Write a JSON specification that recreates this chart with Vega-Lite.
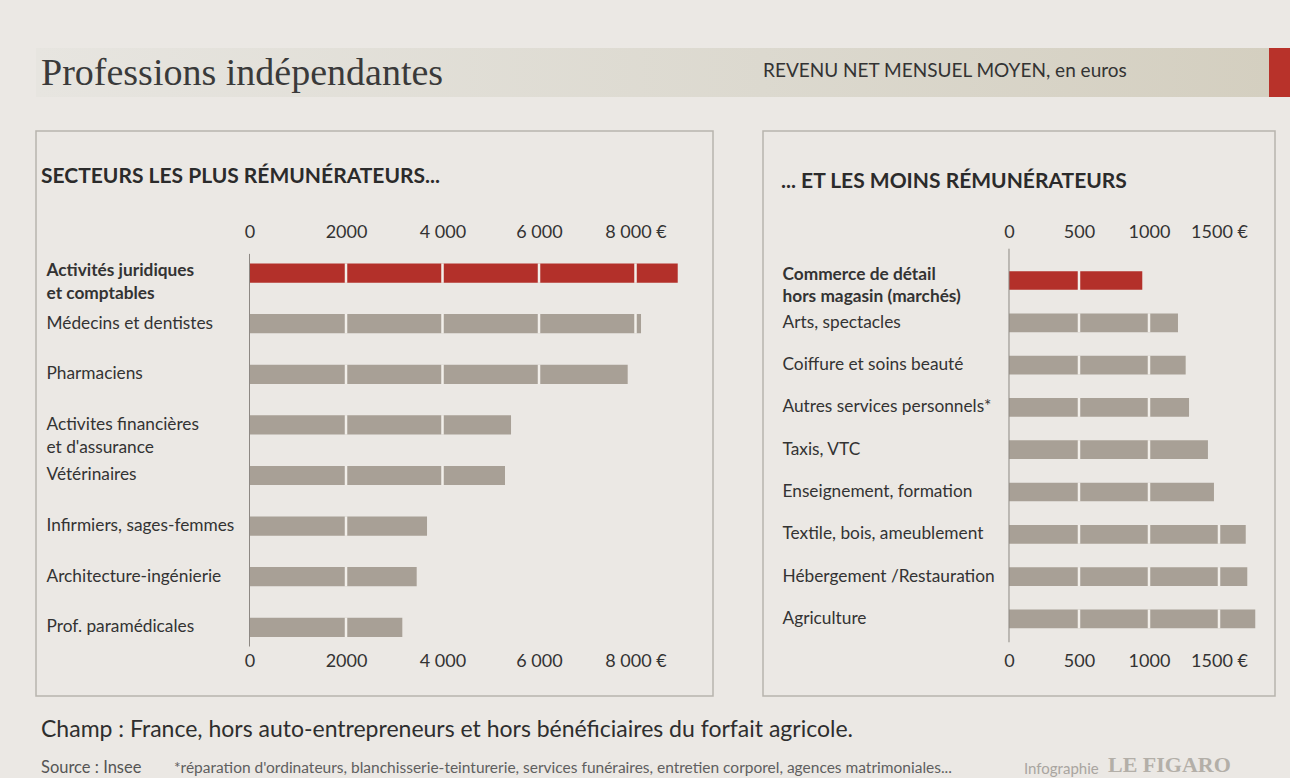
{
  "$schema": "https://vega.github.io/schema/vega-lite/v6.json",
  "background": "#ebe8e4",
  "padding": {"left": 35, "top": 48, "right": 0, "bottom": 0},
  "spacing": 33,
  "config": {
    "font": "Lato, sans-serif",
    "view": {"stroke": null},
    "title": {"anchor": "start", "frame": "group", "color": "#333333", "fontWeight": "normal", "font": "Lato, sans-serif"},
    "axis": {"labelFont": "Lato, sans-serif", "labelColor": "#333333", "ticks": false, "domain": false, "grid": false, "labelOverlap": false, "labelFlush": false}
  },
  "vconcat": [
    {
      "spacing": 0,
      "hconcat": [
        {
          "width": 727, "height": 49,
          "data": {"values": []},
          "mark": "point",
          "view": {"stroke": null, "fill": {"gradient": "linear", "x1": 0, "y1": 0, "x2": 1, "y2": 0, "stops": [{"offset": 0, "color": "#e7e5e0"}, {"offset": 1, "color": "#dcd9cf"}]}},
          "title": {"text": "Professions indépendantes", "font": "Liberation Serif", "fontSize": 38, "fontWeight": "normal", "color": "#3a3a3a", "offset": -45, "dx": 5}
        },
        {
          "width": 528, "height": 49,
          "data": {"values": []},
          "mark": "point",
          "view": {"stroke": null, "fill": {"gradient": "linear", "x1": 0, "y1": 0, "x2": 1, "y2": 0, "stops": [{"offset": 0, "color": "#dcd9cf"}, {"offset": 0.958, "color": "#d4cfc0"}, {"offset": 0.958, "color": "#b8322a"}, {"offset": 1, "color": "#b8322a"}]}},
          "title": {"text": "REVENU NET MENSUEL MOYEN, en euros", "fontSize": 19, "color": "#333333", "offset": -33.3}
        }
      ]
    },
    {
      "spacing": 0,
      "vconcat": [
        {
          "spacing": 48,
          "resolve": {"scale": {"x": "independent", "y": "independent"}},
          "hconcat": [
            {
              "width": 677, "height": 565,
              "view": {"stroke": "#b8b4ad", "strokeWidth": 1.5},
              "title": {"text": "SECTEURS LES PLUS RÉMUNÉRATEURS...", "fontSize": 21, "fontWeight": "bold", "color": "#2b2b2b", "offset": -55.9, "dx": 5},
              "data": {"values": [
                {"secteur": "Activités juridiques\net comptables", "revenu": 8875},
                {"secteur": "Médecins et dentistes", "revenu": 8114},
                {"secteur": "Pharmaciens", "revenu": 7838},
                {"secteur": "Activites financières\net d'assurance", "revenu": 5420},
                {"secteur": "Vétérinaires", "revenu": 5295},
                {"secteur": "Infirmiers, sages-femmes", "revenu": 3679},
                {"secteur": "Architecture-ingénierie", "revenu": 3465},
                {"secteur": "Prof. paramédicales", "revenu": 3167}
              ]},
              "resolve": {"axis": {"x": "independent", "y": "independent"}},
              "layer": [
                {
                  "mark": {"type": "bar"},
                  "encoding": {
                    "y": {"field": "secteur", "type": "nominal", "sort": null,
                      "scale": {"domain": ["Activités juridiques\net comptables", "Médecins et dentistes", "Pharmaciens", "Activites financières\net d'assurance", "Vétérinaires", "Infirmiers, sages-femmes", "Architecture-ingénierie", "Prof. paramédicales"], "range": [107.2, 531.2], "paddingInner": 0.62, "paddingOuter": 0.5, "align": 0.5},
                      "axis": {"orient": "left", "title": null, "offset": -10, "labelAlign": "left", "labelBaseline": "middle", "labelPadding": 0, "labelFontSize": 17.3, "labelLimit": 320, "labelLineHeight": 23, "labelExpr": "split(datum.label, '\\n')",
                        "labelOffset": {"condition": {"test": "indexof(datum.value, 'juridiques') >= 0", "value": -2}, "value": 0},
                        "labelFontWeight": {"condition": {"test": "indexof(datum.value, 'juridiques') >= 0", "value": "bold"}, "value": "normal"}}},
                    "x": {"field": "revenu", "type": "quantitative",
                      "scale": {"domain": [-4425, 9606], "nice": false, "zero": false},
                      "axis": {"orient": "top", "title": null, "values": [0, 2000, 4000, 6000, 8000], "offset": -112, "labelPadding": 2, "labelFontSize": 18,
                        "labelExpr": "datum.value == 0 ? '0' : datum.value == 2000 ? '2000' : datum.value == 4000 ? '4 000' : datum.value == 6000 ? '6 000' : '8 000 €'"}},
                    "color": {"condition": {"test": "indexof(datum.secteur, 'juridiques') >= 0", "value": "#b3302a"}, "value": "#a8a096"}
                  }
                },
                {
                  "transform": [
                    {"impute": "revenu", "key": "g", "keyvals": [2000, 4000, 6000, 8000], "groupby": ["secteur"], "method": "max", "frame": [null, null]},
                    {"filter": "datum.g < datum.revenu"}
                  ],
                  "mark": {"type": "tick", "color": "#f2efea", "thickness": 2.5, "size": 19.5, "opacity": 1},
                  "encoding": {
                    "y": {"field": "secteur", "type": "nominal", "sort": null,
                      "scale": {"domain": ["Activités juridiques\net comptables", "Médecins et dentistes", "Pharmaciens", "Activites financières\net d'assurance", "Vétérinaires", "Infirmiers, sages-femmes", "Architecture-ingénierie", "Prof. paramédicales"], "range": [107.2, 531.2], "paddingInner": 0.62, "paddingOuter": 0.5, "align": 0.5},
                      "axis": null},
                    "x": {"field": "g", "type": "quantitative",
                      "scale": {"domain": [-4425, 9606], "nice": false, "zero": false},
                      "axis": {"orient": "bottom", "title": null, "values": [0, 2000, 4000, 6000, 8000], "offset": -45.5, "labelPadding": 2, "labelFontSize": 18,
                        "labelExpr": "datum.value == 0 ? '0' : datum.value == 2000 ? '2000' : datum.value == 4000 ? '4 000' : datum.value == 6000 ? '6 000' : '8 000 €'"}}
                  }
                },
                {
                  "transform": [{"aggregate": [{"op": "count", "as": "n"}]}],
                  "mark": {"type": "rule", "color": "#8d8883", "strokeWidth": 1},
                  "encoding": {
                    "x": {"datum": 0, "type": "quantitative", "axis": null},
                    "y": {"datum": "Activités juridiques\net comptables", "type": "nominal", "bandPosition": -0.5, "axis": null},
                    "y2": {"datum": "Prof. paramédicales", "bandPosition": 1.5}
                  }
                }
              ]
            },
            {
              "width": 512, "height": 565,
              "view": {"stroke": "#b8b4ad", "strokeWidth": 1.5},
              "title": {"text": "... ET LES MOINS RÉMUNÉRATEURS", "fontSize": 21, "fontWeight": "bold", "color": "#2b2b2b", "offset": -61.4, "dx": 18},
              "data": {"values": [
                {"secteur": "Commerce de détail\nhors magasin (marchés)", "revenu": 952},
                {"secteur": "Arts, spectacles", "revenu": 1207},
                {"secteur": "Coiffure et soins beauté", "revenu": 1262},
                {"secteur": "Autres services personnels*", "revenu": 1286},
                {"secteur": "Taxis, VTC", "revenu": 1421},
                {"secteur": "Enseignement, formation", "revenu": 1464},
                {"secteur": "Textile, bois, ameublement", "revenu": 1691},
                {"secteur": "Hébergement /Restauration", "revenu": 1702},
                {"secteur": "Agriculture", "revenu": 1759}
              ]},
              "resolve": {"axis": {"x": "independent", "y": "independent"}},
              "layer": [
                {
                  "mark": {"type": "bar"},
                  "encoding": {
                    "y": {"field": "secteur", "type": "nominal", "sort": null,
                      "scale": {"domain": ["Commerce de détail\nhors magasin (marchés)", "Arts, spectacles", "Coiffure et soins beauté", "Autres services personnels*", "Taxis, VTC", "Enseignement, formation", "Textile, bois, ameublement", "Hébergement /Restauration", "Agriculture"], "range": [119, 518.4], "paddingInner": 0.558, "paddingOuter": 0.5, "align": 0.5},
                      "axis": {"orient": "left", "title": null, "offset": -19, "labelAlign": "left", "labelBaseline": "middle", "labelPadding": 0, "labelFontSize": 17.3, "labelLimit": 320, "labelLineHeight": 22, "labelExpr": "split(datum.label, '\\n')",
                        "labelOffset": {"condition": {"test": "indexof(datum.value, 'Commerce') >= 0", "value": -5}, "value": 0},
                        "labelFontWeight": {"condition": {"test": "indexof(datum.value, 'Commerce') >= 0", "value": "bold"}, "value": "normal"}}},
                    "x": {"field": "revenu", "type": "quantitative",
                      "scale": {"domain": [-1757, 1900], "nice": false, "zero": false},
                      "axis": {"orient": "top", "title": null, "values": [0, 500, 1000, 1500], "format": "d", "offset": -112, "labelPadding": 2, "labelFontSize": 18,
                        "labelExpr": "datum.value == 1500 ? '1500 €' : datum.label"}},
                    "color": {"condition": {"test": "indexof(datum.secteur, 'Commerce') >= 0", "value": "#b3302a"}, "value": "#a8a096"}
                  }
                },
                {
                  "transform": [
                    {"impute": "revenu", "key": "g", "keyvals": [500, 1000, 1500], "groupby": ["secteur"], "method": "max", "frame": [null, null]},
                    {"filter": "datum.g < datum.revenu"}
                  ],
                  "mark": {"type": "tick", "color": "#f2efea", "thickness": 2.5, "size": 19, "opacity": 1},
                  "encoding": {
                    "y": {"field": "secteur", "type": "nominal", "sort": null,
                      "scale": {"domain": ["Commerce de détail\nhors magasin (marchés)", "Arts, spectacles", "Coiffure et soins beauté", "Autres services personnels*", "Taxis, VTC", "Enseignement, formation", "Textile, bois, ameublement", "Hébergement /Restauration", "Agriculture"], "range": [119, 518.4], "paddingInner": 0.558, "paddingOuter": 0.5, "align": 0.5},
                      "axis": null},
                    "x": {"field": "g", "type": "quantitative",
                      "scale": {"domain": [-1757, 1900], "nice": false, "zero": false},
                      "axis": {"orient": "bottom", "title": null, "values": [0, 500, 1000, 1500], "format": "d", "offset": -45.5, "labelPadding": 2, "labelFontSize": 18,
                        "labelExpr": "datum.value == 1500 ? '1500 €' : datum.label"}}
                  }
                },
                {
                  "transform": [{"aggregate": [{"op": "count", "as": "n"}]}],
                  "mark": {"type": "rule", "color": "#8d8883", "strokeWidth": 1},
                  "encoding": {
                    "x": {"datum": 0, "type": "quantitative", "axis": null},
                    "y": {"datum": "Commerce de détail\nhors magasin (marchés)", "type": "nominal", "bandPosition": -1.2, "axis": null},
                    "y2": {"datum": "Agriculture", "bandPosition": 1.75}
                  }
                }
              ]
            }
          ]
        },
        {
          "width": 1237, "height": 50,
          "data": {"values": []},
          "mark": "point",
          "title": {"text": "Champ : France, hors auto-entrepreneurs et hors bénéficiaires du forfait agricole.", "fontSize": 23, "color": "#2e2e2e", "offset": -45.3, "dx": 5}
        },
        {
          "spacing": 0,
          "hconcat": [
            {
              "width": 138, "height": 32,
              "data": {"values": []},
              "mark": "point",
              "title": {"text": "Source : Insee", "fontSize": 16.5, "color": "#555555", "offset": -29.2, "dx": 5}
            },
            {
              "width": 850, "height": 32,
              "data": {"values": []},
              "mark": "point",
              "title": {"text": "*réparation d'ordinateurs, blanchisserie-teinturerie, services funéraires, entretien corporel, agences matrimoniales...", "fontSize": 15.5, "color": "#5f5f5f", "offset": -29}
            },
            {
              "width": 84, "height": 32,
              "data": {"values": []},
              "mark": "point",
              "title": {"text": "Infographie", "fontSize": 15, "color": "#a9a5a0", "offset": -29.9}
            },
            {
              "width": 165, "height": 32,
              "data": {"values": []},
              "mark": "point",
              "title": {"text": "LE FIGARO", "font": "Liberation Serif", "fontSize": 22, "fontWeight": "bold", "color": "#b3afa8", "offset": -30.3}
            }
          ]
        }
      ]
    }
  ]
}
